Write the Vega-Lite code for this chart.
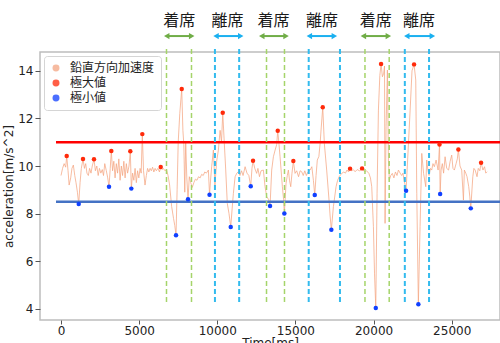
{
  "$schema": "https://vega.github.io/schema/vega-lite/v6.json",
  "width": 460,
  "height": 268,
  "autosize": {"type": "none"},
  "padding": {"left": 40, "top": 52, "right": 0, "bottom": 23},
  "background": "white",
  "datasets": {
    "acc": [
      {"t":0,"a":9.6},{"t":100,"a":9.9},{"t":200,"a":10.1},{"t":300,"a":9.95},{"t":365,"a":10.42},{"t":450,"a":9.8},{"t":520,"a":9.2},{"t":620,"a":9.5},{"t":700,"a":9.9},{"t":790,"a":10.04},{"t":880,"a":9.6},{"t":960,"a":9.3},{"t":1050,"a":8.9},{"t":1133,"a":8.4},{"t":1220,"a":9.3},{"t":1300,"a":9.9},{"t":1408,"a":10.29},{"t":1500,"a":9.9},{"t":1580,"a":10.1},{"t":1660,"a":9.7},{"t":1750,"a":9.6},{"t":1830,"a":9.9},{"t":1920,"a":9.7},{"t":2000,"a":10.0},{"t":2112,"a":10.28},{"t":2200,"a":9.8},{"t":2290,"a":10.0},{"t":2380,"a":9.6},{"t":2460,"a":9.9},{"t":2550,"a":9.7},{"t":2640,"a":9.85},{"t":2720,"a":9.6},{"t":2800,"a":10.1},{"t":2900,"a":9.8},{"t":2990,"a":9.5},{"t":3072,"a":9.13},{"t":3150,"a":9.9},{"t":3219,"a":10.63},{"t":3300,"a":9.8},{"t":3380,"a":10.2},{"t":3460,"a":9.5},{"t":3540,"a":10.1},{"t":3620,"a":9.7},{"t":3700,"a":10.3},{"t":3780,"a":9.4},{"t":3860,"a":10.0},{"t":3940,"a":9.6},{"t":4020,"a":10.2},{"t":4100,"a":9.5},{"t":4180,"a":10.1},{"t":4260,"a":9.7},{"t":4350,"a":10.0},{"t":4435,"a":10.62},{"t":4499,"a":9.05},{"t":4580,"a":9.7},{"t":4660,"a":9.4},{"t":4740,"a":9.9},{"t":4820,"a":9.3},{"t":4900,"a":9.8},{"t":4980,"a":9.5},{"t":5060,"a":9.9},{"t":5130,"a":9.7},{"t":5203,"a":11.34},{"t":5280,"a":9.8},{"t":5376,"a":9.2},{"t":5460,"a":9.6},{"t":5540,"a":9.9},{"t":5620,"a":9.75},{"t":5700,"a":9.9},{"t":5780,"a":9.8},{"t":5860,"a":9.95},{"t":5940,"a":9.75},{"t":6020,"a":9.9},{"t":6100,"a":9.8},{"t":6200,"a":9.9},{"t":6300,"a":9.75},{"t":6381,"a":9.96},{"t":6460,"a":9.85},{"t":6550,"a":9.9},{"t":6650,"a":9.8},{"t":6750,"a":9.85},{"t":6850,"a":9.6},{"t":6950,"a":9.2},{"t":7080,"a":8.3},{"t":7200,"a":7.8},{"t":7280,"a":7.5},{"t":7360,"a":7.09},{"t":7430,"a":9.0},{"t":7500,"a":11.0},{"t":7600,"a":12.2},{"t":7725,"a":13.24},{"t":7800,"a":11.5},{"t":7860,"a":10.9},{"t":7920,"a":8.9},{"t":7980,"a":11.0},{"t":8050,"a":9.5},{"t":8128,"a":8.6},{"t":8210,"a":9.55},{"t":8300,"a":9.3},{"t":8400,"a":9.1},{"t":8500,"a":9.3},{"t":8600,"a":9.45},{"t":8700,"a":9.4},{"t":8800,"a":9.55},{"t":8900,"a":9.5},{"t":9000,"a":9.65},{"t":9100,"a":9.6},{"t":9200,"a":9.75},{"t":9300,"a":9.7},{"t":9430,"a":9.83},{"t":9504,"a":8.79},{"t":9580,"a":9.5},{"t":9640,"a":9.97},{"t":9750,"a":10.67},{"t":9850,"a":9.2},{"t":9960,"a":10.2},{"t":10070,"a":10.67},{"t":10180,"a":11.5},{"t":10270,"a":11.0},{"t":10349,"a":12.24},{"t":10450,"a":10.95},{"t":10540,"a":9.83},{"t":10640,"a":8.43},{"t":10750,"a":8.0},{"t":10861,"a":7.44},{"t":10950,"a":8.2},{"t":11030,"a":8.85},{"t":11140,"a":9.55},{"t":11250,"a":9.7},{"t":11350,"a":9.76},{"t":11450,"a":9.6},{"t":11550,"a":9.8},{"t":11650,"a":9.6},{"t":11780,"a":9.97},{"t":11900,"a":9.7},{"t":12020,"a":9.6},{"t":12141,"a":9.15},{"t":12220,"a":9.9},{"t":12288,"a":10.22},{"t":12400,"a":9.9},{"t":12520,"a":9.69},{"t":12600,"a":9.9},{"t":12700,"a":9.55},{"t":12800,"a":9.8},{"t":12950,"a":9.83},{"t":13056,"a":9.13},{"t":13165,"a":8.71},{"t":13280,"a":8.6},{"t":13376,"a":8.32},{"t":13482,"a":9.83},{"t":13590,"a":10.39},{"t":13700,"a":10.67},{"t":13800,"a":10.9},{"t":13869,"a":11.48},{"t":13950,"a":10.9},{"t":14016,"a":10.39},{"t":14165,"a":9.13},{"t":14240,"a":8.6},{"t":14291,"a":8.0},{"t":14400,"a":9.27},{"t":14480,"a":9.6},{"t":14550,"a":9.83},{"t":14620,"a":9.4},{"t":14700,"a":9.13},{"t":14780,"a":9.7},{"t":14867,"a":10.21},{"t":14976,"a":9.69},{"t":15080,"a":9.8},{"t":15200,"a":9.55},{"t":15300,"a":9.8},{"t":15400,"a":9.76},{"t":15500,"a":9.6},{"t":15600,"a":9.8},{"t":15700,"a":9.6},{"t":15800,"a":9.75},{"t":15940,"a":9.83},{"t":16050,"a":9.97},{"t":16150,"a":9.4},{"t":16237,"a":8.78},{"t":16320,"a":9.6},{"t":16400,"a":10.25},{"t":16500,"a":10.4},{"t":16580,"a":10.95},{"t":16650,"a":11.6},{"t":16749,"a":12.47},{"t":16850,"a":10.95},{"t":17000,"a":9.83},{"t":17150,"a":8.57},{"t":17220,"a":7.9},{"t":17299,"a":7.32},{"t":17430,"a":8.29},{"t":17600,"a":9.13},{"t":17700,"a":9.4},{"t":17800,"a":9.55},{"t":17960,"a":9.69},{"t":18100,"a":9.75},{"t":18200,"a":9.7},{"t":18300,"a":9.83},{"t":18400,"a":9.75},{"t":18496,"a":9.89},{"t":18600,"a":9.8},{"t":18700,"a":9.85},{"t":18820,"a":9.76},{"t":18950,"a":9.85},{"t":19100,"a":9.8},{"t":19200,"a":9.85},{"t":19264,"a":9.9},{"t":19360,"a":9.8},{"t":19456,"a":9.76},{"t":19550,"a":9.8},{"t":19700,"a":9.69},{"t":19800,"a":9.5},{"t":19883,"a":9.13},{"t":19990,"a":7.45},{"t":20060,"a":5.5},{"t":20141,"a":4.03},{"t":20224,"a":8.85},{"t":20310,"a":12.35},{"t":20400,"a":13.8},{"t":20480,"a":14.29},{"t":20565,"a":13.75},{"t":20650,"a":13.9},{"t":20700,"a":14.2},{"t":20736,"a":7.59},{"t":20800,"a":11.65},{"t":20885,"a":14.03},{"t":20950,"a":10.25},{"t":21010,"a":9.41},{"t":21100,"a":9.6},{"t":21200,"a":9.69},{"t":21300,"a":9.5},{"t":21400,"a":9.75},{"t":21500,"a":9.6},{"t":21590,"a":9.83},{"t":21700,"a":9.7},{"t":21800,"a":9.6},{"t":21880,"a":9.7},{"t":21950,"a":9.41},{"t":22020,"a":9.2},{"t":22080,"a":8.96},{"t":22180,"a":10.25},{"t":22260,"a":11.3},{"t":22340,"a":12.35},{"t":22460,"a":14.0},{"t":22592,"a":14.27},{"t":22700,"a":13.61},{"t":22765,"a":8.85},{"t":22867,"a":4.19},{"t":22976,"a":7.45},{"t":23085,"a":10.53},{"t":23200,"a":9.69},{"t":23340,"a":9.13},{"t":23400,"a":10.25},{"t":23480,"a":9.8},{"t":23550,"a":9.6},{"t":23640,"a":9.9},{"t":23720,"a":9.83},{"t":23800,"a":10.1},{"t":23890,"a":9.97},{"t":24000,"a":10.25},{"t":24130,"a":9.83},{"t":24220,"a":10.9},{"t":24260,"a":8.82},{"t":24320,"a":9.83},{"t":24400,"a":10.1},{"t":24480,"a":9.7},{"t":24576,"a":10.39},{"t":24680,"a":9.9},{"t":24800,"a":9.83},{"t":24900,"a":10.2},{"t":25000,"a":10.46},{"t":25080,"a":9.9},{"t":25170,"a":9.83},{"t":25280,"a":10.1},{"t":25360,"a":10.3},{"t":25427,"a":10.69},{"t":25530,"a":10.0},{"t":25640,"a":9.83},{"t":25750,"a":8.57},{"t":25810,"a":9.83},{"t":25900,"a":9.7},{"t":25980,"a":9.55},{"t":26090,"a":9.13},{"t":26160,"a":8.7},{"t":26221,"a":8.22},{"t":26350,"a":9.55},{"t":26420,"a":9.9},{"t":26500,"a":9.83},{"t":26620,"a":9.55},{"t":26700,"a":9.9},{"t":26800,"a":9.8},{"t":26880,"a":10.14},{"t":27000,"a":9.83},{"t":27100,"a":9.97},{"t":27180,"a":9.7},{"t":27260,"a":9.76}
    ],
    "ext": [
      {"t":365,"a":10.42,"kind":"極大値"},{"t":1408,"a":10.29,"kind":"極大値"},{"t":2112,"a":10.28,"kind":"極大値"},{"t":3219,"a":10.63,"kind":"極大値"},{"t":4435,"a":10.62,"kind":"極大値"},{"t":5203,"a":11.34,"kind":"極大値"},{"t":6381,"a":9.96,"kind":"極大値"},{"t":7725,"a":13.24,"kind":"極大値"},{"t":10349,"a":12.24,"kind":"極大値"},{"t":12288,"a":10.22,"kind":"極大値"},{"t":13869,"a":11.48,"kind":"極大値"},{"t":14867,"a":10.21,"kind":"極大値"},{"t":16749,"a":12.47,"kind":"極大値"},{"t":18496,"a":9.89,"kind":"極大値"},{"t":19264,"a":9.9,"kind":"極大値"},{"t":20480,"a":14.29,"kind":"極大値"},{"t":22592,"a":14.27,"kind":"極大値"},{"t":24220,"a":10.9,"kind":"極大値"},{"t":25427,"a":10.69,"kind":"極大値"},{"t":26880,"a":10.14,"kind":"極大値"},
      {"t":1133,"a":8.4,"kind":"極小値"},{"t":3072,"a":9.13,"kind":"極小値"},{"t":4499,"a":9.05,"kind":"極小値"},{"t":7360,"a":7.09,"kind":"極小値"},{"t":8128,"a":8.6,"kind":"極小値"},{"t":9504,"a":8.79,"kind":"極小値"},{"t":10861,"a":7.44,"kind":"極小値"},{"t":12141,"a":9.15,"kind":"極小値"},{"t":13376,"a":8.32,"kind":"極小値"},{"t":14291,"a":8.0,"kind":"極小値"},{"t":16237,"a":8.78,"kind":"極小値"},{"t":17299,"a":7.32,"kind":"極小値"},{"t":20141,"a":4.03,"kind":"極小値"},{"t":22080,"a":8.96,"kind":"極小値"},{"t":22867,"a":4.19,"kind":"極小値"},{"t":24260,"a":8.82,"kind":"極小値"},{"t":26221,"a":8.22,"kind":"極小値"}
    ],
    "thr": [{"v":11.0,"kind":"upper"},{"v":8.5,"kind":"lower"}],
    "vl": [
      {"t":6750,"kind":"着席"},{"t":8350,"kind":"着席"},{"t":9850,"kind":"離席"},{"t":11400,"kind":"離席"},{"t":13150,"kind":"着席"},{"t":14300,"kind":"着席"},{"t":15850,"kind":"離席"},{"t":17850,"kind":"離席"},{"t":19450,"kind":"着席"},{"t":21000,"kind":"着席"},{"t":22000,"kind":"離席"},{"t":23550,"kind":"離席"}
    ],
    "arr": [
      {"t1":6765,"t2":8363,"tm":7560,"kind":"着席"},
      {"t1":9920,"t2":11499,"tm":10650,"kind":"離席"},
      {"t1":12845,"t2":14400,"tm":13600,"kind":"着席"},
      {"t1":15891,"t2":17491,"tm":16700,"kind":"離席"},
      {"t1":19347,"t2":20947,"tm":20140,"kind":"着席"},
      {"t1":22125,"t2":23764,"tm":22900,"kind":"離席"}
    ]
  },
  "layer": [
    {
      "data": {"name": "acc"},
      "mark": {"type": "line", "strokeWidth": 1, "opacity": 0.75, "clip": true},
      "encoding": {
        "x": {"field": "t", "type": "quantitative",
          "scale": {"domain": [-1344, 28090], "nice": false, "zero": false},
          "axis": {"title": "Time[ms]", "values": [0,5000,10000,15000,20000,25000], "format": "d", "tickSize": 4, "labelPadding": 1, "titlePadding": 1}},
        "y": {"field": "a", "type": "quantitative",
          "scale": {"domain": [3.53, 14.79], "nice": false, "zero": false},
          "axis": {"title": "acceleration[m/s^2]", "values": [4,6,8,10,12,14], "tickSize": 5, "labelPadding": 2, "titlePadding": 2}},
        "color": {"datum": "鉛直方向加速度", "type": "nominal",
          "scale": {"domain": ["鉛直方向加速度", "極大値", "極小値"], "range": ["#f4a582", "#ff2a0a", "#1040ff"]},
          "legend": {"title": null}
        }
      }
    },
    {
      "data": {"name": "thr"},
      "mark": {"type": "rule", "strokeWidth": 2.5},
      "encoding": {
        "y": {"field": "v", "type": "quantitative"},
        "x": {"datum": -320},
        "x2": {"datum": 29500},
        "color": {"condition": {"test": "datum.kind === 'upper'", "value": "#ff0000"}, "value": "#4472c4"}
      }
    },
    {
      "data": {"name": "vl"},
      "mark": {"type": "rule", "strokeDash": [5, 3], "clip": false},
      "encoding": {
        "x": {"field": "t", "type": "quantitative"},
        "y": {"datum": 4.29},
        "y2": {"datum": 15.04},
        "color": {"condition": {"test": "datum.kind === '着席'", "value": "#a5d46a"}, "value": "#33bbee"},
        "strokeWidth": {"condition": {"test": "datum.kind === '着席'", "value": 1.5}, "value": 2}
      }
    },
    {
      "data": {"name": "ext"},
      "mark": {"type": "point", "filled": true, "size": 20, "opacity": 1},
      "encoding": {
        "x": {"field": "t", "type": "quantitative"},
        "y": {"field": "a", "type": "quantitative"},
        "color": {"field": "kind", "type": "nominal", "legend": {"title": null}}
      }
    },
    {
      "data": {"name": "arr"},
      "mark": {"type": "rule", "strokeWidth": 2, "clip": false},
      "encoding": {
        "x": {"field": "t1", "type": "quantitative"},
        "x2": {"field": "t2"},
        "y": {"datum": 15.46},
        "color": {"condition": {"test": "datum.kind === '着席'", "value": "#70ad47"}, "value": "#1ab0f0"}
      }
    },
    {
      "data": {"name": "arr"},
      "mark": {"type": "point", "shape": "triangle-left", "filled": true, "size": 40, "opacity": 1, "clip": false},
      "encoding": {
        "x": {"field": "t1", "type": "quantitative"},
        "y": {"datum": 15.46},
        "color": {"condition": {"test": "datum.kind === '着席'", "value": "#70ad47"}, "value": "#1ab0f0"}
      }
    },
    {
      "data": {"name": "arr"},
      "mark": {"type": "point", "shape": "triangle-right", "filled": true, "size": 40, "opacity": 1, "clip": false},
      "encoding": {
        "x": {"field": "t2", "type": "quantitative"},
        "y": {"datum": 15.46},
        "color": {"condition": {"test": "datum.kind === '着席'", "value": "#70ad47"}, "value": "#1ab0f0"}
      }
    },
    {
      "data": {"name": "arr"},
      "mark": {"type": "text", "font": "Noto Sans CJK JP", "fontSize": 16, "align": "center", "baseline": "middle", "color": "#1a1a1a", "clip": false},
      "encoding": {
        "x": {"field": "tm", "type": "quantitative"},
        "y": {"datum": 16.08},
        "text": {"field": "kind"}
      }
    }
  ],
  "config": {
    "font": "DejaVu Sans",
    "view": {"stroke": "#bdbdbd", "strokeWidth": 1.5},
    "axis": {"grid": false, "domain": false, "tickColor": "#555555", "labelFontSize": 12, "labelColor": "#222222", "titleFontSize": 12, "titleFontWeight": "normal", "titleColor": "#222222"},
    "legend": {"orient": "top-left", "offset": 4, "padding": 6, "strokeColor": "#d5d5d5", "fillColor": "white", "cornerRadius": 3, "labelFont": "Noto Sans CJK JP", "labelFontSize": 12, "labelColor": "#222222", "rowPadding": 3, "labelOffset": 8, "symbolSize": 30, "symbolType": "circle"}
  }
}
